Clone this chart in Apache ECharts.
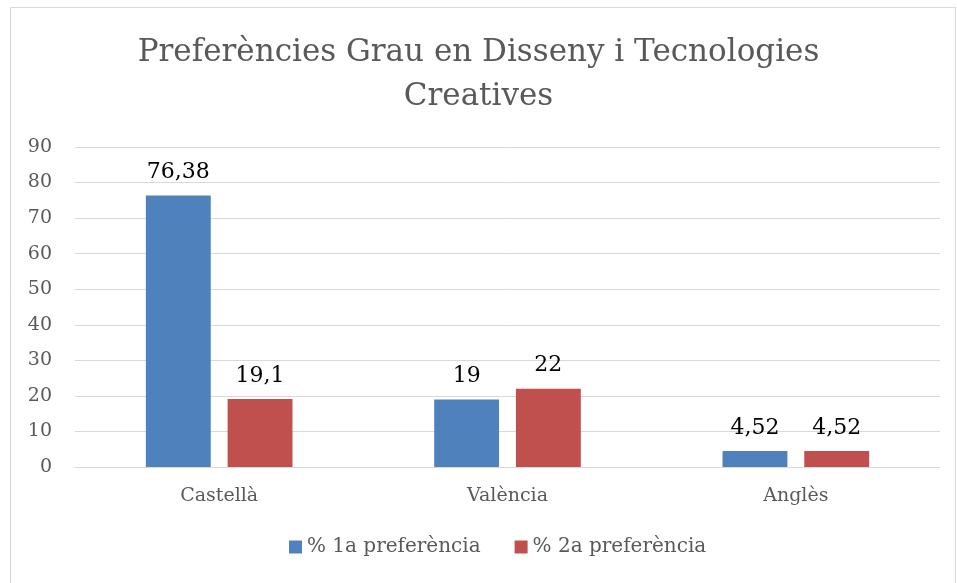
<!DOCTYPE html>
<html>
<head>
<meta charset="utf-8">
<script src="https://cdn.jsdelivr.net/npm/echarts@6/dist/echarts.min.js"></script>
<style>
html,body{margin:0;padding:0;background:#fff;}
#chart{width:957px;height:583px;}
</style>
</head>
<body>
<div id="chart"></div>
<script>
var categories = ["Castellà", "València", "Anglès"];
var pref1 = [76.38, 19, 4.52];
var pref2 = [19.1, 22, 4.52];
var seriesNames = ["% 1a preferència", "% 2a preferència"];

var fontFam = "DejaVu Serif";

function fmtLabel(p){
	return String(p.value).replace(".", ",");
}

var myChart = echarts.init(document.getElementById('chart'));
myChart.setOption({
	backgroundColor: '#fff',
	animation: false,
	title: {
		text: 'Preferències Grau en Disseny i Tecnologies\nCreatives',
		left: 'center',
		top: 26,
		textStyle: {
			fontFamily: fontFam,
			fontWeight: 'normal',
			fontSize: 31,
			color: '#595959',
			lineHeight: 44
		}
	},
	graphic: [{
		type: 'rect',
		shape: {x: 10.5, y: 7.5, width: 945, height: 590},
		style: {fill: 'none', stroke: '#d9d9d9', lineWidth: 1},
		silent: true
	}],
	legend: {
		data: seriesNames,
		bottom: 21,
		left: 284,
		itemWidth: 13,
		itemHeight: 13,
		itemGap: 34,
		icon: 'rect',
		textStyle: {fontFamily: fontFam, fontSize: 20, color: '#595959'}
	},
	grid: {left: 75, right: 17, top: 147, bottom: 116, containLabel: false},
	xAxis: [{
		type: 'category',
		data: categories,
		axisLine: {lineStyle: {color: '#d9d9d9'}},
		axisTick: {show: false},
		axisLabel: {fontFamily: fontFam, fontSize: 19, color: '#595959', margin: 20}
	}],
	yAxis: [{
		type: 'value',
		min: 0,
		max: 90,
		interval: 10,
		axisLine: {show: false},
		axisTick: {show: false},
		splitLine: {lineStyle: {color: '#d9d9d9', width: 1}},
		axisLabel: {fontFamily: fontFam, fontSize: 19, color: '#595959', margin: 23}
	}],
	series: [{
		name: seriesNames[0],
		type: 'bar',
		data: pref1,
		barWidth: '22.5%',
		barGap: '26%',
		itemStyle: {color: '#4F81BD'},
		label: {show: true, position: 'top', distance: 12, formatter: fmtLabel,
			fontFamily: fontFam, fontSize: 22, color: '#000'}
	}, {
		name: seriesNames[1],
		type: 'bar',
		data: pref2,
		barWidth: '22.5%',
		itemStyle: {color: '#C0504D'},
		label: {show: true, position: 'top', distance: 12, formatter: fmtLabel,
			fontFamily: fontFam, fontSize: 22, color: '#000'}
	}]
});
</script>
</body>
</html>
